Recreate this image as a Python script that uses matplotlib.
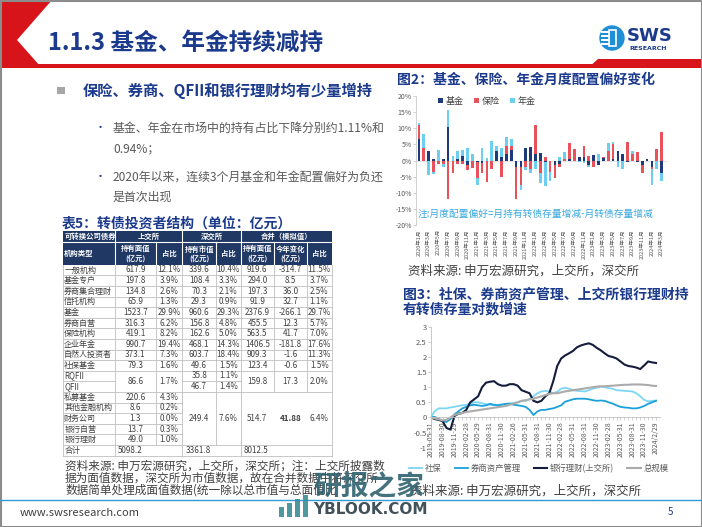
import numpy as np
import matplotlib
matplotlib.use('Agg')
import matplotlib.pyplot as plt
from matplotlib.patches import Rectangle, Polygon, Circle

plt.rcParams['font.family'] = ['Noto Sans CJK SC', 'DejaVu Sans']

# DATA ###############################################################################################################
# fig 2: monthly allocation preference (%), 2020-01 .. 2024-03
fund = [6.7, 0, 3.0, 0.5, 0, 0.6, 10.3, 0, 0.5, 1.5, -1.5, 0, -0.6, -0.8, -0.3, 0, 3.0, 1.0, 2.0, 3.3,
        -2.0, -2.0, 4.0, 4.2, 2.0, 2.2, -0.5, 0, -1.5, -1.0, 0, 0.5, 0, 1.0, 1.0, -1.5, 1.8, -1.5, 0.8, 0,
        0.5, 3.0, 2.0, -0.5, 0, -0.5, -1.5, 0.5, -2.0, 0, -4.0]
insurance = [4.3, 4.0, 0, -3.5, -1.0, -1.2, -12.0, -4.0, -1.0, -1.0, -1.3, -2.3, -4.9, -3.2, -6.5, -2.5, 0, -5.0,
             2.5, 1.2, -10.0, -5.5, -2.0, -2.5, 9.0, -4.0, 1.0, -3.5, -4.0, -1.0, 0.5, 5.0, 3.5, 0, 3.5, 1.5,
             -2.0, 0, 0.3, 3.0, 4.5, 0, 0, 5.8, 2.0, 2.5, -2.5, 0, -0.5, 3.5, 8.8]
annuity = [0.6, 4.3, -4.5, -0.8, 3.3, -0.8, 5.5, 1.5, 2.3, 1.8, 4.0, 2.0, -2.0, 4.0, 0.8, 6.2, 1.5, 3.0, 2.8, 2.2,
           0, -1.5, -1.0, -1.5, -2.5, -3.0, -7.5, -3.0, 0, 1.0, 2.0, 0, 0, -0.5, -0.8, -0.5, 0, 2.0, 0, 2.5,
           0.8, -2.0, -2.5, 0, 1.0, 0, 0, 0, -5.0, -2.5, -2.5]
bar_labels = ['%d年%d月' % (2020 + k // 12, k % 12 + 1) for k in range(0, 51, 2)]

# fig 3: log growth of holdings, monthly 2019-05 .. 2024-02
social = [0, 0.2, 0.3, 0.3, 0.3, 0.33, 0.35, 0.38, 0.4, 0.42, 0.45, 0.5, 0.5, 0.47, 0.44, 0.42, 0.4, 0.42, 0.43, 0.45,
          0.47, 0.48, 0.5, 0.55, 0.55, 0.6, 0.7, 0.8, 0.86, 0.88, 0.85, 0.8, 0.85, 0.95, 0.98, 0.95, 0.9, 0.88, 0.87,
          0.86, 0.9, 0.95, 0.98, 1.02, 1.0, 0.97, 0.95, 0.9, 0.89, 0.88, 0.87, 0.86, 0.8, 0.7, 0.58, 0.53, 0.55, 0.56]
broker = [0, 0.02, -0.05, -0.12, -0.15, -0.05, 0.1, 0.2, 0.3, 0.35, 0.4, 0.42, 0.4, 0.38, 0.4, 0.45, 0.42, 0.4, 0.42,
          0.45, 0.45, 0.42, 0.4, 0.38, 0.35, 0.25, 0.08, 0.2, 0.25, 0.25, 0.28, 0.3, 0.35, 0.4, 0.52, 0.56, 0.6, 0.62,
          0.62, 0.62, 0.6, 0.57, 0.55, 0.56, 0.55, 0.5, 0.46, 0.4, 0.35, 0.33, 0.32, 0.3, 0.3, 0.33, 0.38, 0.45, 0.5, 0.55]
bank = [0, -0.05, -0.08, -0.12, -0.35, -0.4, 0.05, 0.12, 0.15, 0.25, 0.5, 0.6, 0.7, 1.0, 1.15, 1.18, 1.2, 1.1, 1.05,
        1.05, 1.1, 1.1, 1.05, 0.9, 0.85, 0.8, 0.55, 0.5, 0.55, 0.7, 0.8, 1.2, 1.7, 1.95, 2.05, 2.12, 2.2, 2.32, 2.38,
        2.42, 2.45, 2.4, 2.3, 2.22, 2.12, 2.03, 2.0, 1.95, 1.85, 1.75, 1.7, 1.68, 1.65, 1.6, 1.72, 1.85, 1.82, 1.8]
total = [0, -0.03, -0.06, -0.1, -0.08, 0.0, 0.08, 0.12, 0.15, 0.18, 0.2, 0.22, 0.24, 0.26, 0.28, 0.3, 0.32, 0.34,
         0.36, 0.38, 0.42, 0.46, 0.5, 0.55, 0.57, 0.6, 0.62, 0.66, 0.7, 0.74, 0.78, 0.8, 0.8, 0.83, 0.86, 0.88, 0.9,
         0.92, 0.94, 0.96, 0.98, 1.0, 1.02, 1.03, 1.03, 1.04, 1.05, 1.06, 1.07, 1.08, 1.08, 1.09, 1.09, 1.09, 1.08,
         1.07, 1.05, 1.04]
line_labels = ['2019-05-31', '2019-08-30', '2019-11-29', '2020-02-28', '2020-05-29', '2020-08-31', '2020-11-30',
               '2021-02-26', '2021-05-31', '2021-08-31', '2021-11-30', '2022-02-28', '2022-05-31', '2022-08-31',
               '2022-11-30', '2023-02-28', '2023-05-31', '2023-08-31', '2023-11-30', '2024/2/29']

# table 5
tbl_names = ['一般机构', '基金专户', '券商集合理财', '信托机构', '基金', '券商自营', '保险机构', '企业年金',
             '自然人投资者', '社保基金', 'RQFII', 'QFII', '私募基金', '其他金融机构', '财务公司', '银行自营',
             '银行理财', '合计']
sh_val = ['617.9', '197.8', '134.8', '65.9', '1523.7', '316.3', '419.1', '990.7', '373.1', '79.3', '86.6', None,
          '220.6', '8.6', '1.3', '13.7', '49.0', '5098.2']
sh_pct = ['12.1%', '3.9%', '2.6%', '1.3%', '29.9%', '6.2%', '8.2%', '19.4%', '7.3%', '1.6%', '1.7%', None,
          '4.3%', '0.2%', '0.0%', '0.3%', '1.0%', None]
sz_val = ['339.6', '108.4', '70.3', '29.3', '960.6', '156.8', '162.6', '468.1', '603.7', '49.6', '35.8', '46.7',
          '249.4', None, None, None, None, '3361.8']
sz_pct = ['10.4%', '3.3%', '2.1%', '0.9%', '29.3%', '4.8%', '5.0%', '14.3%', '18.4%', '1.5%', '1.1%', '1.4%',
          '7.6%', None, None, None, None, None]
all_val = ['919.6', '294.0', '197.3', '91.9', '2376.9', '455.5', '563.5', '1406.5', '909.3', '123.4', '159.8', None,
           '514.7', None, None, None, None, '8012.5']
all_chg = ['-314.7', '8.5', '36.0', '32.7', '-266.1', '12.3', '41.7', '-181.8', '-1.6', '-0.6', '17.3', None,
           '41.88', None, None, None, None, None]
all_pct = ['11.5%', '3.7%', '2.5%', '1.1%', '29.7%', '5.7%', '7.0%', '17.6%', '11.3%', '1.5%', '2.0%', None,
           '6.4%', None, None, None, None, None]

# COLOURS ############################################################################################################
NAVY = '#1B3A8C'
GRAY = '#595959'
HEAD = '#1F3864'
C_FUND, C_INS, C_ANN = '#1F3A7A', '#E9525B', '#6DCFF0'
C_SOC, C_BRK, C_BANK, C_TOT = '#7DD6F5', '#1AA0DB', '#141E3C', '#ABABAB'

W, H = 702, 527
fig = plt.figure(figsize=(W / 100, H / 100), dpi=100)
bg = fig.add_axes([0, 0, 1, 1])
bg.set_xlim(0, W)
bg.set_ylim(H, 0)
bg.axis('off')


def axes_px(x0, y0, x1, y1):
    return fig.add_axes([x0 / W, 1 - y1 / H, (x1 - x0) / W, (y1 - y0) / H])


# HEADER #############################################################################################################
bg.add_patch(Polygon([(0, 0), (52, 0), (17, 40), (40, 66), (0, 66)], closed=True, color='#D7141A', lw=0))
bg.add_patch(Rectangle((0, 64), W, 4, color='#D7141A', lw=0))
bg.add_patch(Polygon([(588, 68), (598, 59), (W, 59), (W, 68)], closed=True, color='#D7141A', lw=0))
bg.text(48, 43, '1.1.3 基金、年金持续减持', fontsize=17, fontweight='bold', color=NAVY, va='center')
# logo
bg.add_patch(Circle((612, 38), 12, color='#1E8FD6'))
for yy in [31, 35, 39, 43]:
    bg.add_patch(Rectangle((601, yy), 9, 2, color='white', lw=0))
bg.add_patch(Rectangle((609, 30), 7, 16, fill=False, ec='white', lw=1.2))
bg.text(627, 36, 'SWS', fontsize=13, fontweight='bold', color=NAVY, va='center', family='DejaVu Sans')
bg.text(629, 49, 'RESEARCH', fontsize=4.5, fontweight='bold', color=NAVY, va='center', family='DejaVu Sans')

# LEFT TEXT ##########################################################################################################
bg.add_patch(Rectangle((57, 87), 8, 7, color='#A6A6A6', lw=0))
bg.text(83, 91, '保险、券商、QFII和银行理财均有少量增持', fontsize=11, fontweight='bold', color=NAVY, va='center')
for yy, s in [(128, '基金、年金在市场中的持有占比下降分别约1.11%和'), (149, '0.94%；'),
              (177, '2020年以来，连续3个月基金和年金配置偏好为负还'), (197, '是首次出现')]:
    bg.text(113, yy, s, fontsize=8.6, color=GRAY, va='center')
for yy in [128, 177]:
    bg.text(95, yy, '•', fontsize=8, color=NAVY, va='center')

# TABLE ##############################################################################################################
bg.text(62, 224, '表5：转债投资者结构（单位：亿元）', fontsize=10, fontweight='bold', color=NAVY, va='center')
cx = [62.7, 115, 156, 182.3, 216, 240.7, 274, 306.7, 331.7]
h1, h2, r0, rh = 231, 242, 264.7, 10.6
bg.add_patch(Rectangle((cx[0], h1), cx[-1] - cx[0], r0 - h1, color=HEAD, lw=0))
bg.plot([cx[0], cx[-1]], [h2, h2], color='white', lw=0.8)
for k in [1, 3, 5]:
    bg.plot([cx[k], cx[k]], [h1, r0], color='white', lw=0.8)
for k in [2, 4, 6, 7]:
    bg.plot([cx[k], cx[k]], [h2, r0], color='white', lw=0.8)
hk = dict(color='white', fontsize=5.3, fontweight='bold', ha='center', va='center')
bg.text(cx[0] + 1.5, (h1 + h2) / 2, '可转换公司债券', **dict(hk, ha='left'))
bg.text((cx[1] + cx[3]) / 2, (h1 + h2) / 2, '上交所', **hk)
bg.text((cx[3] + cx[5]) / 2, (h1 + h2) / 2, '深交所', **hk)
bg.text((cx[5] + cx[8]) / 2, (h1 + h2) / 2, '合并（模拟值）', **hk)
bg.text(cx[0] + 1.5, (h2 + r0) / 2, '机构类型', **dict(hk, ha='left'))
for k, s in enumerate(['持有面值\n(亿元)', '占比', '持有市值\n(亿元)', '占比', '持有面值\n(亿元)', '今年变化\n(亿元)', '占比']):
    bg.text((cx[k + 1] + cx[k + 2]) / 2, (h2 + r0) / 2, s, linespacing=1.2, **hk)

nrow = len(tbl_names)
cols = [sh_val, sh_pct, sz_val, sz_pct, all_val, all_chg, all_pct]


def hmerged(b, c):
    # no horizontal line at boundary b (top of row b) in column c
    if b == 11 and c in [1, 2, 5, 6, 7]:
        return True
    if 13 <= b <= 16 and c >= 3:
        return True
    return False


def vmerged(r, k):
    # no vertical line at column boundary k in row r
    if r == 17 and k in [2, 4, 6, 7]:
        return True
    if 12 <= r <= 16 and k in [6, 7]:
        return True
    return False


gc = '#BFBFBF'
for b in range(1, nrow + 1):
    y = r0 + b * rh
    for c in range(8):
        if b < nrow and hmerged(b, c):
            continue
        bg.plot([cx[c], cx[c + 1]], [y, y], color=gc, lw=0.6)
for r in range(nrow):
    y0 = r0 + r * rh
    for k in range(9):
        if vmerged(r, k):
            continue
        bg.plot([cx[k], cx[k]], [y0, y0 + rh], color=gc, lw=0.6)

tk = dict(fontsize=5.8, color='#404040', va='center')
for r, name in enumerate(tbl_names):
    y = r0 + (r + 0.5) * rh
    bg.text(cx[0] + 1.5, y, name, **tk)
    for c, col in enumerate(cols):
        s = col[r]
        if s is None:
            continue
        yy = y
        if r == 10 and c in [0, 1, 4, 5, 6]:
            yy = r0 + 11 * rh
        if r == 12 and c >= 2:
            yy = r0 + 14.5 * rh
        if r == 17:
            bg.text(cx[c + 1] + 3, yy, s, ha='left', **tk)
        else:
            fw = 'bold' if s == '41.88' else 'normal'
            bg.text((cx[c + 1] + cx[c + 2]) / 2, yy, s, ha='center', fontweight=fw, **tk)

for yy, s in [(466, '资料来源: 申万宏源研究，上交所，深交所；注：上交所披露数'),
              (478, '据为面值数据，深交所为市值数据，故在合并数据中将深交所'),
              (490.5, '数据简单处理成面值数据(统一除以总市值与总面值比')]:
    bg.text(65, yy, s, fontsize=8.4, color='#404040', va='center')

# FIG 2 ##############################################################################################################
bg.text(397, 80, '图2：基金、保险、年金月度配置偏好变化', fontsize=10, fontweight='bold', color=NAVY, va='center')
ax2 = axes_px(416, 96, 668, 225)
xb = np.arange(len(fund))
pos_b = np.zeros(len(fund))
neg_b = np.zeros(len(fund))
for vals, color, name in [(fund, C_FUND, '基金'), (insurance, C_INS, '保险'), (annuity, C_ANN, '年金')]:
    v = np.array(vals, dtype=float)
    ax2.bar(xb, v, 0.56, bottom=np.where(v >= 0, pos_b, neg_b), color=color, label=name, lw=0)
    pos_b += np.clip(v, 0, None)
    neg_b += np.clip(v, None, 0)
ax2.axhline(0, color='#D9D9D9', lw=0.5, zorder=0)
ax2.set_xlim(-0.6, 51.3)
ax2.set_ylim(-20, 20)
ax2.set_yticks(range(-20, 21, 5))
ax2.set_yticklabels(['%d%%' % t for t in range(-20, 21, 5)], fontsize=5, color=GRAY)
ax2.set_xticks(range(0, 51, 2))
ax2.set_xticklabels(bar_labels, rotation=90, fontsize=4, color=GRAY)
ax2.tick_params(axis='x', length=0, pad=3)
ax2.tick_params(axis='y', length=2, width=0.5, color='#BFBFBF', pad=1)
for sp in ['top', 'right', 'bottom']:
    ax2.spines[sp].set_visible(False)
ax2.spines['left'].set_color('#BFBFBF')
ax2.spines['left'].set_linewidth(0.5)
ax2.patch.set_alpha(0)
leg = ax2.legend(loc='center left', bbox_to_anchor=(0.07, 0.96), ncol=3, frameon=False, fontsize=6.5,
                 handlelength=0.5, handleheight=0.5, handletextpad=0.3, columnspacing=1.2, borderpad=0)
for t in leg.get_texts():
    t.set_color('#404040')
ax2.text(0.008, 0.085, '注:月度配置偏好=月持有转债存量增减-月转债存量增减', transform=ax2.transAxes,
         fontsize=7, color='#3AA9DF', va='center')
bg.text(408, 271, '资料来源: 申万宏源研究，上交所，深交所', fontsize=9, color='#404040', va='center')

# FIG 3 ##############################################################################################################
bg.text(403, 295, '图3：社保、券商资产管理、上交所银行理财持', fontsize=10, fontweight='bold', color=NAVY, va='center')
bg.text(403, 309, '有转债存量对数增速', fontsize=10, fontweight='bold', color=NAVY, va='center')
ax3 = axes_px(430.7, 326.7, 660, 447.7)
ax3.spines['bottom'].set_position(('data', 0))
xl = np.arange(len(bank))
ax3.plot(xl, social, color=C_SOC, lw=1.3, label='社保')
ax3.plot(xl, broker, color=C_BRK, lw=1.3, label='券商资产管理')
ax3.plot(xl, bank, color=C_BANK, lw=1.5, label='银行理财(上交所)')
ax3.plot(xl, total, color=C_TOT, lw=1.5, label='总规模')
ax3.set_xlim(0, 58)
ax3.set_ylim(-1, 3)
ax3.set_yticks(np.arange(-1, 3.01, 0.5))
ax3.set_yticklabels(['-1', '-0.5', '0', '0.5', '1', '1.5', '2', '2.5', '3'], fontsize=5.5, color=GRAY)
ax3.set_xticks(xl, minor=True)
ax3.set_xticks(range(0, 58, 3))
ax3.set_xticklabels(line_labels, rotation=90, fontsize=5, color=GRAY)
for sp in ['top', 'right']:
    ax3.spines[sp].set_visible(False)
for sp in ['left', 'bottom']:
    ax3.spines[sp].set_color('#BFBFBF')
    ax3.spines[sp].set_linewidth(0.6)
ax3.tick_params(axis='both', which='both', length=2, width=0.5, color='#BFBFBF', pad=1)
ax3.patch.set_alpha(0)
leg3 = ax3.legend(loc='center', bbox_to_anchor=(0.47, -0.17), ncol=4, frameon=False, fontsize=6,
                  handlelength=1.6, handletextpad=0.3, columnspacing=1.6, borderpad=0)
for t in leg3.get_texts():
    t.set_color(GRAY)
bg.text(410, 491, '资料来源: 申万宏源研究，上交所，深交所', fontsize=9, color='#404040', va='center')

# FOOTER #############################################################################################################
bg.plot([0, W], [500, 500], color='#2E9BD6', lw=1)
bg.text(20, 513, 'www.swsresearch.com', fontsize=8, color='#404040', va='center')
bg.text(668, 512, '5', fontsize=7, color=NAVY, va='center')
bg.add_patch(Rectangle((0.5, 0.5), W - 1, H - 1, fill=False, ec='#8C8C8C', lw=1.5))

# watermark
wm = fig.add_axes([0, 0, 1, 1], zorder=10)
wm.set_xlim(0, W)
wm.set_ylim(H, 0)
wm.axis('off')
for k, hh in enumerate([10, 14, 18, 22]):
    wm.add_patch(Rectangle((279 + k * 8, 517 - hh), 5, hh, color='#3B8E96', alpha=0.9, lw=0))
wm.text(313, 486, '研报之家', fontsize=20, fontweight='bold', color='#2F6270', alpha=0.9, va='center')
wm.text(313, 510, 'YBLOOK.COM', fontsize=11, fontweight='bold', color='#2D3E48', alpha=0.9, va='center',
        family='DejaVu Sans')

fig.savefig('out.png', dpi=100)
